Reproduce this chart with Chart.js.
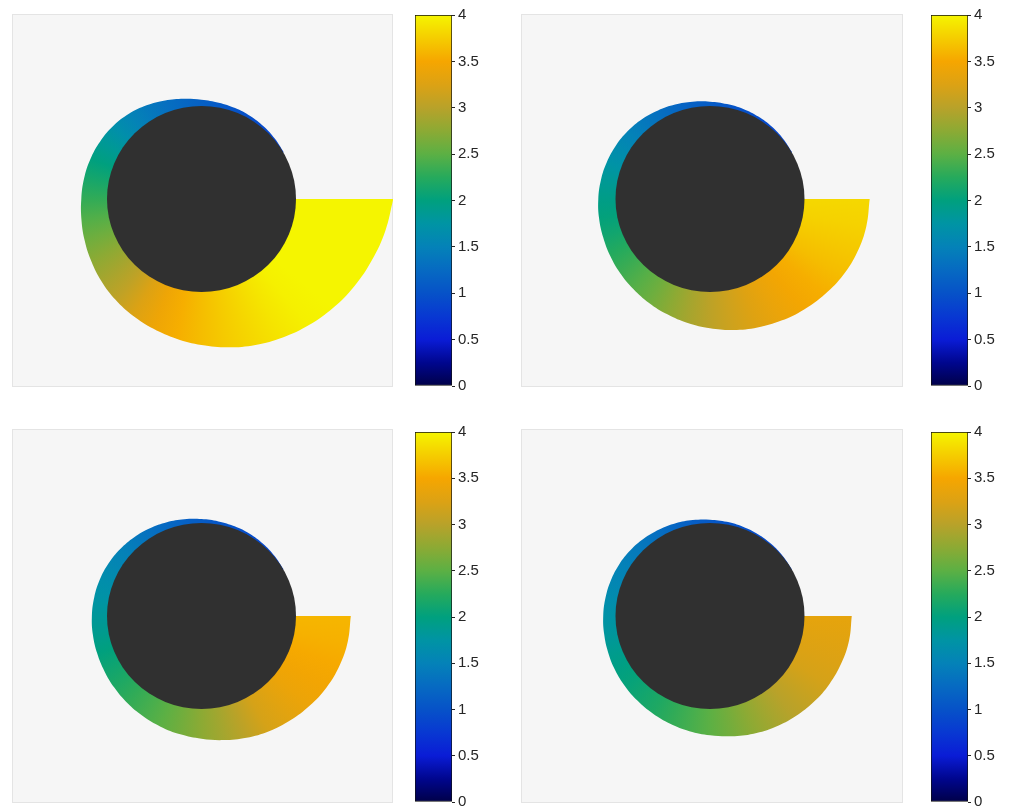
<!DOCTYPE html>
<html>
<head>
<meta charset="utf-8">
<script src="https://cdn.jsdelivr.net/npm/chart.js@4.4.1/dist/chart.umd.min.js"></script>
<style>
  html, body { margin: 0; padding: 0; background: #ffffff; width: 1010px; height: 810px; overflow: hidden; }
  canvas { position: absolute; }
</style>
</head>
<body>
<canvas id="panel1"></canvas>
<canvas id="panel2"></canvas>
<canvas id="panel3"></canvas>
<canvas id="panel4"></canvas>
<canvas id="bar1"></canvas>
<canvas id="bar2"></canvas>
<canvas id="bar3"></canvas>
<canvas id="bar4"></canvas>
<script>
// Angular positions of the samples, measured clockwise from the right (degrees)
const angleDeg = [0, 10, 20, 30, 40, 50, 60, 70, 80, 90, 100, 110, 120, 130, 140, 150, 160,
                  170, 180, 190, 200, 210, 220, 230, 240, 250, 260, 270, 280, 290, 300, 310, 320, 330];

// Outer radius of the band (core disc radius = 1)
const radius1 = [2.03, 1.975, 1.92, 1.87, 1.82, 1.77, 1.72, 1.67, 1.62, 1.57, 1.525, 1.485, 1.45, 1.415, 1.38, 1.345, 1.315,
                 1.29, 1.272, 1.262, 1.252, 1.238, 1.22, 1.195, 1.163, 1.127, 1.095, 1.068, 1.052, 1.041, 1.031, 1.021, 1.012, 1.005];
const radius2 = [1.69, 1.68, 1.66, 1.63, 1.59, 1.55, 1.51, 1.47, 1.43, 1.39, 1.355, 1.32, 1.29, 1.262, 1.24, 1.22, 1.203,
                 1.192, 1.182, 1.172, 1.161, 1.149, 1.136, 1.12, 1.10, 1.08, 1.062, 1.047, 1.037, 1.03, 1.023, 1.016, 1.009, 1.004];
const radius3 = [1.58, 1.572, 1.555, 1.53, 1.497, 1.463, 1.43, 1.393, 1.355, 1.32, 1.292, 1.266, 1.242, 1.221, 1.202, 1.186, 1.175,
                 1.167, 1.16, 1.153, 1.145, 1.135, 1.122, 1.107, 1.09, 1.073, 1.056, 1.042, 1.033, 1.026, 1.02, 1.013, 1.007, 1.003];
const radius4 = [1.50, 1.495, 1.48, 1.46, 1.435, 1.407, 1.378, 1.347, 1.313, 1.282, 1.257, 1.233, 1.211, 1.191, 1.174, 1.16, 1.147,
                 1.137, 1.13, 1.123, 1.117, 1.11, 1.10, 1.088, 1.075, 1.062, 1.048, 1.036, 1.028, 1.021, 1.015, 1.01, 1.005, 1.002];

// Colour value along the band
const value1 = [4, 4, 4, 4, 4, 3.97, 3.9, 3.82, 3.74, 3.65, 3.55, 3.42, 3.25, 3.05, 2.9, 2.75, 2.6,
                2.45, 2.3, 2.15, 2.0, 1.85, 1.68, 1.52, 1.4, 1.3, 1.22, 1.15, 1.08, 1.02, 0.97, 0.92, 0.88, 0.85];
const value2 = [3.82, 3.78, 3.72, 3.65, 3.55, 3.47, 3.38, 3.27, 3.15, 3.03, 2.9, 2.75, 2.6, 2.47, 2.35, 2.24, 2.12,
                2.02, 1.94, 1.85, 1.73, 1.61, 1.5, 1.4, 1.3, 1.22, 1.15, 1.1, 1.04, 0.99, 0.95, 0.91, 0.88, 0.85];
const value3 = [3.6, 3.57, 3.52, 3.46, 3.4, 3.3, 3.2, 3.03, 2.88, 2.75, 2.62, 2.5, 2.4, 2.3, 2.2, 2.1, 2.0,
                1.9, 1.82, 1.74, 1.66, 1.57, 1.49, 1.4, 1.3, 1.23, 1.16, 1.1, 1.04, 0.99, 0.95, 0.91, 0.88, 0.85];
const value4 = [3.35, 3.3, 3.25, 3.2, 3.1, 3.0, 2.88, 2.75, 2.62, 2.5, 2.4, 2.3, 2.2, 2.12, 2.04, 1.97, 1.89,
                1.8, 1.72, 1.64, 1.56, 1.5, 1.43, 1.36, 1.28, 1.2, 1.13, 1.07, 1.02, 0.98, 0.95, 0.91, 0.88, 0.85];

const coreRadius = 1;
const colorMin = 0;
const colorMax = 4;
const colorbarTicks = [0, 0.5, 1, 1.5, 2, 2.5, 3, 3.5, 4];
const colorbarTickLabels = ['0', '0.5', '1', '1.5', '2', '2.5', '3', '3.5', '4'];

// Colormap anchors (value -> colour)
const cmapValues = [0, 0.25, 0.5, 0.75, 1, 1.25, 1.5, 1.75, 2, 2.25, 2.5, 2.75, 3, 3.25, 3.5, 3.75, 4];
const cmapColors = ['#000048', '#00068e', '#0a1cd6', '#0838d2', '#0652c8', '#066ac2', '#0482b8', '#0094a4', '#00a07e',
                    '#26aa5c', '#5cb044', '#8caa34', '#b8a22a', '#dca214', '#f6a600', '#f5cd00', '#f5f500'];

const FONT = '"Liberation Sans", Arial, Helvetica, sans-serif';
const TEXT_COLOR = '#262626';
const CORE_COLOR = '#303030';
const PANEL_BG = '#f6f6f6';
const PANEL_EDGE = '#e4e4e4';
const PX_PER_UNIT_X = 94.5;
const PX_PER_UNIT_Y = 93;

function hexToRgb(h) {
  return [parseInt(h.slice(1, 3), 16), parseInt(h.slice(3, 5), 16), parseInt(h.slice(5, 7), 16)];
}
const cmapRgb = cmapColors.map(hexToRgb);

function colorFor(v) {
  const t = Math.min(Math.max(v, colorMin), colorMax);
  let i = 0;
  while (i < cmapValues.length - 2 && t > cmapValues[i + 1]) i++;
  const a = cmapValues[i], b = cmapValues[i + 1];
  const f = (t - a) / (b - a);
  const c0 = cmapRgb[i], c1 = cmapRgb[i + 1];
  const c = c0.map((x, k) => Math.round(x + (c1[k] - x) * f));
  return `rgb(${c[0]},${c[1]},${c[2]})`;
}

// Band outline: from the pole out along the first ray, round the outer edge, back to the pole.
// End samples are repeated so the spline keeps sharp corners there.
function bandPoints(radius) {
  const pts = [{ x: 0, y: 0 }];
  radius.forEach((r, i) => {
    const a = angleDeg[i] * Math.PI / 180;
    const pt = { x: r * Math.cos(a), y: -r * Math.sin(a) };
    pts.push(pt);
    if (i === 0 || i === radius.length - 1) pts.push({ x: pt.x, y: pt.y });
  });
  pts.push({ x: 0, y: 0 });
  return pts;
}

// Angular colour fill, centred on the pole in pixel space
function bandFill(context, values) {
  const chart = context.chart;
  const xs = chart.scales.x, ys = chart.scales.y;
  const c = chart.ctx;
  if (!chart.chartArea || !xs || !ys || typeof c.createConicGradient !== 'function') {
    return colorFor(values[Math.floor(values.length / 2)]);
  }
  const cx = xs.getPixelForValue(0), cy = ys.getPixelForValue(0);
  const g = c.createConicGradient(0, cx, cy);
  values.forEach((v, i) => {
    const a = angleDeg[i] * Math.PI / 180;
    const px = xs.getPixelForValue(Math.cos(a)) - cx;
    const py = ys.getPixelForValue(-Math.sin(a)) - cy;
    let ang = Math.atan2(py, px);
    if (ang < 0) ang += 2 * Math.PI;
    if (i === 0) ang = 0;
    g.addColorStop(Math.min(ang / (2 * Math.PI), 1), colorFor(v));
  });
  return g;
}

const panelBackground = {
  id: 'panelBackground',
  beforeDraw(chart) {
    const ctx = chart.ctx;
    ctx.save();
    ctx.fillStyle = PANEL_BG;
    ctx.fillRect(0, 0, chart.width, chart.height);
    ctx.strokeStyle = PANEL_EDGE;
    ctx.lineWidth = 1;
    ctx.strokeRect(0.5, 0.5, chart.width - 1, chart.height - 1);
    ctx.restore();
  }
};

const coreDisc = {
  id: 'coreDisc',
  afterDatasetsDraw(chart) {
    const xs = chart.scales.x, ys = chart.scales.y;
    const cx = xs.getPixelForValue(0), cy = ys.getPixelForValue(0);
    const rx = xs.getPixelForValue(coreRadius) - cx;
    const ry = cy - ys.getPixelForValue(coreRadius);
    const ctx = chart.ctx;
    ctx.save();
    ctx.beginPath();
    ctx.ellipse(cx, cy, rx, ry, 0, 0, 2 * Math.PI);
    ctx.fillStyle = CORE_COLOR;
    ctx.fill();
    ctx.restore();
  }
};

// Panel placement: box in page pixels and the pole's offset inside it
const panels = [
  { id: 'panel1', bar: 'bar1', radius: radius1, value: value1,
    box: { left: 12, top: 14, w: 381, h: 373 }, pole: { x: 189.5, y: 185 },
    cb: { left: 415, top: 3, w: 90, h: 395 } },
  { id: 'panel2', bar: 'bar2', radius: radius2, value: value2,
    box: { left: 521, top: 14, w: 382, h: 373 }, pole: { x: 189, y: 185 },
    cb: { left: 931, top: 3, w: 79, h: 395 } },
  { id: 'panel3', bar: 'bar3', radius: radius3, value: value3,
    box: { left: 12, top: 429, w: 381, h: 374 }, pole: { x: 189.5, y: 187 },
    cb: { left: 415, top: 420, w: 90, h: 394 } },
  { id: 'panel4', bar: 'bar4', radius: radius4, value: value4,
    box: { left: 521, top: 429, w: 382, h: 374 }, pole: { x: 189, y: 187 },
    cb: { left: 931, top: 420, w: 79, h: 394 } }
];

function place(canvas, r) {
  canvas.width = r.w;
  canvas.height = r.h;
  canvas.style.left = r.left + 'px';
  canvas.style.top = r.top + 'px';
  canvas.style.width = r.w + 'px';
  canvas.style.height = r.h + 'px';
}

panels.forEach(p => {
  const pc = document.getElementById(p.id);
  place(pc, p.box);
  new Chart(pc, {
    type: 'scatter',
    data: {
      datasets: [{
        data: bandPoints(p.radius),
        showLine: true,
        fill: 'shape',
        tension: 0.4,
        backgroundColor: (ctx) => bandFill(ctx, p.value),
        borderWidth: 0,
        pointRadius: 0,
        pointHoverRadius: 0,
        pointHitRadius: 0
      }]
    },
    options: {
      responsive: false,
      animation: false,
      events: [],
      layout: { padding: 0 },
      plugins: { legend: { display: false }, tooltip: { enabled: false } },
      scales: {
        x: { type: 'linear', display: false,
             min: -p.pole.x / PX_PER_UNIT_X, max: (p.box.w - p.pole.x) / PX_PER_UNIT_X },
        y: { type: 'linear', display: false,
             min: -(p.box.h - p.pole.y) / PX_PER_UNIT_Y, max: p.pole.y / PX_PER_UNIT_Y }
      }
    },
    plugins: [panelBackground, coreDisc]
  });

  const bc = document.getElementById(p.bar);
  place(bc, p.cb);
  const barWidth = 37;
  new Chart(bc, {
    type: 'bar',
    data: {
      labels: ['colorbar'],
      datasets: [{
        data: [[colorMin, colorMax]],
        backgroundColor: (ctx) => {
          const chart = ctx.chart;
          const y = chart.scales.y;
          if (!chart.chartArea || !y) return colorFor(2);
          const y0 = y.getPixelForValue(colorMin), y1 = y.getPixelForValue(colorMax);
          const g = chart.ctx.createLinearGradient(0, y0, 0, y1);
          cmapValues.forEach((v, i) => g.addColorStop((v - colorMin) / (colorMax - colorMin), cmapColors[i]));
          return g;
        },
        borderColor: '#111111',
        borderWidth: 1,
        borderSkipped: false,
        categoryPercentage: 1,
        barPercentage: 1
      }]
    },
    options: {
      responsive: false,
      animation: false,
      events: [],
      layout: { padding: { left: 0, right: 0, top: 10, bottom: 10 } },
      plugins: { legend: { display: false }, tooltip: { enabled: false } },
      scales: {
        x: { display: false },
        y: {
          position: 'right',
          min: colorMin,
          max: colorMax,
          afterBuildTicks: (s) => { s.ticks = colorbarTicks.map(v => ({ value: v })); },
          afterFit: (s) => { s.width = p.cb.w - barWidth; },
          border: { display: false },
          grid: { drawOnChartArea: false, drawTicks: true, tickLength: 3, color: TEXT_COLOR, lineWidth: 1 },
          ticks: {
            autoSkip: false,
            padding: 3,
            color: TEXT_COLOR,
            font: { family: FONT, size: 15 },
            callback: (v) => colorbarTickLabels[colorbarTicks.indexOf(v)]
          }
        }
      }
    }
  });
});
</script>
</body>
</html>
